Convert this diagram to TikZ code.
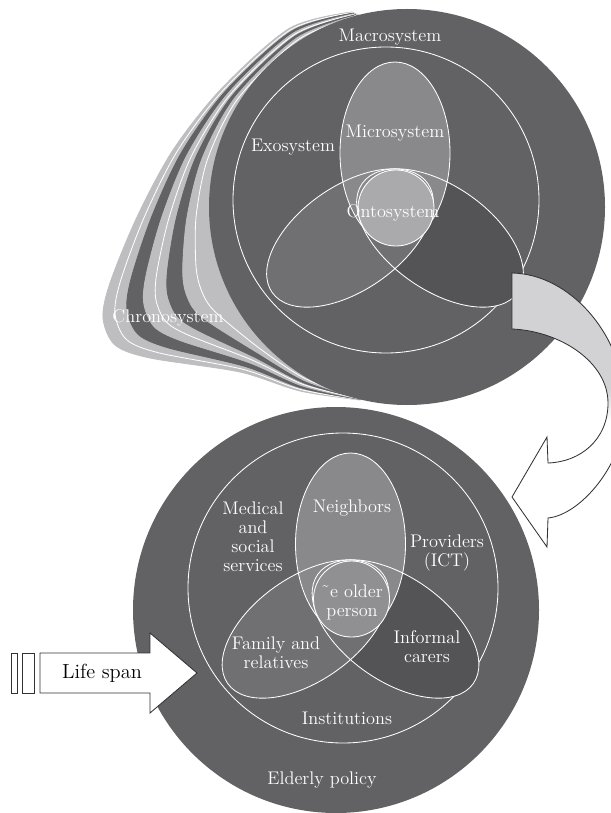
\documentclass[tikz,border=0pt]{standalone}
\usepackage{tikz}
\usetikzlibrary{calc}

\definecolor{discgray}{RGB}{98,98,100}
\definecolor{chronolight}{RGB}{190,190,192}
\definecolor{vennleft}{RGB}{112,112,114}
\definecolor{vennright}{RGB}{84,84,86}
\definecolor{venntop}{RGB}{137,137,139}
\definecolor{ontogray}{RGB}{170,170,172}
\definecolor{persongray}{RGB}{144,144,146}
\definecolor{arrowgray}{RGB}{210,210,212}
\definecolor{arrowline}{RGB}{50,50,52}

\pgfdeclareverticalshading{arrowfade}{100bp}{color(0bp)=(white); color(48bp)=(white); color(54bp)=(arrowgray); color(100bp)=(arrowgray)}

\newcommand{\sysfont}{\fontsize{13}{13.5}\selectfont}

\tikzset{
  venn line/.style={draw=white, line width=0.6pt},
  sys label/.style={text=white, font=\sysfont, align=center, inner sep=0pt},
}

% three overlapping sets round a core circle, at the position of the upper disc
\newcommand{\drawvenn}[1]{%
  \fill[vennright, rotate around={-35:(440,238)}] (440,238) ellipse (95 and 52);
  \fill[vennleft, rotate around={35:(350,238)}] (350,238) ellipse (95 and 52);
  \fill[venntop] (395,153) ellipse (55 and 91);
  \draw[venn line, rotate around={-35:(440,238)}] (440,238) ellipse (95 and 52);
  \draw[venn line, rotate around={35:(350,238)}] (350,238) ellipse (95 and 52);
  \draw[venn line] (395,153) ellipse (55 and 91);
  \filldraw[fill=#1, venn line] (396,208) circle (38);
}

\begin{document}
\begin{tikzpicture}[x=0.025cm, y=-0.025cm]
\useasboundingbox (0,0) rectangle (610,813);

% chronosystem: discs fanned out behind the front one
\coordinate (C) at (407,207);
\foreach \i/\x/\y in {1/352/12, 2/290/28, 3/222/88, 4/173/150, 5/137/217, 6/110/283, 7/103/318, 8/115/345, 9/150/358, 10/240/372, 11/300/391, 12/360/400}{
  \coordinate (O\i) at (\x,\y);
  \coordinate (F\i) at ($(C)!4.9cm!(O\i)$);
}
\coordinate (H1) at (450,350); \coordinate (H2) at (540,220); \coordinate (H3) at (450,60);
\foreach \t/\col/\edge in {1/chronolight/chronolight, 0.9/chronolight/white, 0.8/discgray/discgray, 0.66/chronolight/chronolight, 0.56/chronolight/white, 0.46/discgray/discgray, 0.32/chronolight/chronolight, 0.2/chronolight/white}
  \filldraw[fill=\col, draw=\edge, line width=0.6pt] plot[smooth] coordinates {($(F1)!\t!(O1)$) ($(F2)!\t!(O2)$) ($(F3)!\t!(O3)$) ($(F4)!\t!(O4)$) ($(F5)!\t!(O5)$) ($(F6)!\t!(O6)$) ($(F7)!\t!(O7)$) ($(F8)!\t!(O8)$) ($(F9)!\t!(O9)$) ($(F10)!\t!(O10)$) ($(F11)!\t!(O11)$) ($(F12)!\t!(O12)$)} -- (H1) -- (H2) -- (H3) -- cycle;

% upper disc
\fill[discgray] (C) circle (198);
\draw[venn line] (386,200) circle (153);
\drawvenn{ontogray}
\node[sys label] (macro) at (390,37) {Macrosystem};
\node[sys label] (exo) at (293,147) {Exosystem};
\node[sys label] (micro) at (395,133) {Microsystem};
\node[sys label] (onto) at (393,213) {Ontosystem};
\node[sys label] (chrono) at (168,318) {Chronosystem};

% lower disc
\fill[discgray] (336,610) circle (203);
\draw[venn line] (343,588) circle (155);
\begin{scope}[shift={(-44.5,391)}]
  \drawvenn{persongray}
\end{scope}
\node[sys label] (medical) at (253,537) {Medical\\and\\social\\services};
\node[sys label] (neighbors) at (352,508) {Neighbors};
\node[sys label] (providers) at (447,553) {Providers\\(ICT)};
\node[sys label] (person) at (352,602) {˜e older\\person};
\node[sys label] (family) at (276,653) {Family and\\relatives};
\node[sys label] (carers) at (427,647) {Informal\\carers};
\node[sys label] (institutions) at (347,718) {Institutions};
\node[sys label] (policy) at (322,780) {Elderly policy};

% life span arrow
\filldraw[fill=white, draw=arrowline, line width=0.6pt] (40,653) -- (150,653) -- (150,633) -- (197,673) -- (150,713) -- (150,693) -- (40,693) -- cycle;
\filldraw[fill=white, draw=arrowline, line width=0.6pt] (11,653) rectangle (17,693);
\filldraw[fill=white, draw=arrowline, line width=0.6pt] (22,653) rectangle (34,693);
\node[font=\fontsize{14.5}{15}\selectfont, inner sep=0pt] (lifespan) at (102,673) {Life span};

% turning arrow from the upper disc to the lower one
\shadedraw[shading=arrowfade, draw=arrowline, line width=0.6pt] (512,273) .. controls (570,274) and (625,335) .. (626,410) .. controls (624,465) and (580,515) .. (548,518) -- (547,547) -- (512,497) -- (547,437) -- (548,463) .. controls (580,462) and (608,440) .. (608,403) .. controls (608,362) and (560,331) .. (512,329) -- cycle;
\end{tikzpicture}
\end{document}
